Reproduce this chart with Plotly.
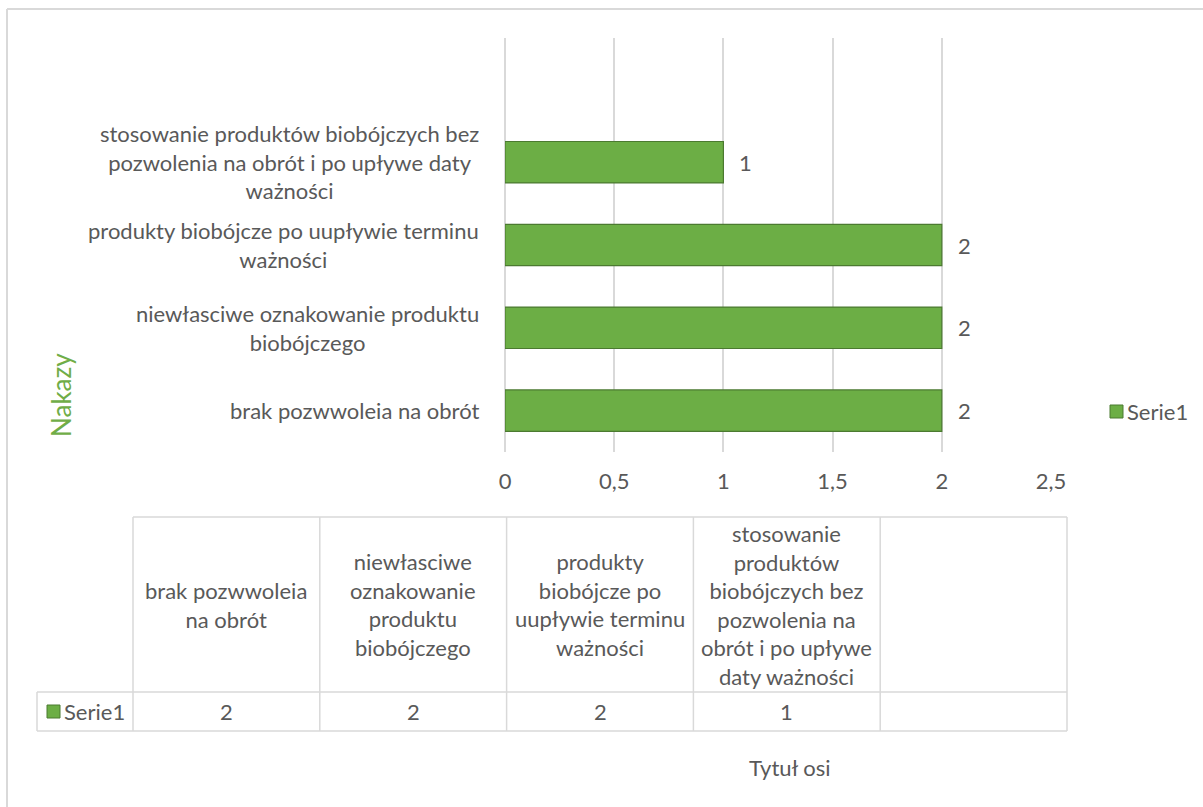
import plotly.graph_objects as go

# dane
kategorie = [
    "brak pozwwoleia na obrót",
    "niewłasciwe oznakowanie produktu biobójczego",
    "produkty biobójcze po uupływie terminu ważności",
    "stosowanie produktów biobójczych bez pozwolenia na obrót i po upływe daty ważności",
]
etykiety_osi = [
    "brak pozwwoleia na obrót",
    "niewłasciwe oznakowanie produktu<br>biobójczego",
    "produkty biobójcze po uupływie terminu<br>ważności",
    "stosowanie produktów biobójczych bez<br>pozwolenia na obrót i po upływe daty<br>ważności",
]
etykiety_tabeli = [
    "brak pozwwoleia<br>na obrót",
    "niewłasciwe<br>oznakowanie<br>produktu<br>biobójczego",
    "produkty<br>biobójcze po<br>uupływie terminu<br>ważności",
    "stosowanie<br>produktów<br>biobójczych bez<br>pozwolenia na<br>obrót i po upływe<br>daty ważności",
    "",
]
serie1 = [2, 2, 2, 1]
nazwa_serii = "Serie1"
x_ticks = [0, 0.5, 1, 1.5, 2, 2.5]

W, H = 1203, 807
L, R, T, B = 505, 152, 38, 355
FONT = "Lato"
GRAY = "#595959"
GRID = "#d9d9d9"
GREEN = "#6cae45"
EDGE = "#4b7a30"
FS = 22


def px_x(p):
    return (p - L) / (W - L - R)


def px_y(p):
    return (H - B - p) / (H - T - B)


def txt(**kw):
    base = dict(xref="paper", yref="paper", showarrow=False,
                xanchor="center", yanchor="middle", align="center",
                font=dict(family=FONT, size=FS, color=GRAY))
    base.update(kw)
    return base


fig = go.Figure()
fig.add_trace(go.Bar(
    x=serie1, y=kategorie, orientation="h", name=nazwa_serii,
    marker=dict(color=GREEN, line=dict(color=EDGE, width=1.2)),
    showlegend=False,
))

# etykiety danych
for k, v in zip(kategorie, serie1):
    fig.add_annotation(x=v, y=k, text=str(v), showarrow=False,
                       xanchor="left", xshift=14,
                       font=dict(family=FONT, size=FS, color=GRAY))

# etykiety kategorii (wyśrodkowane wiersze)
for k, lab in zip(kategorie, etykiety_osi):
    fig.add_annotation(xref="paper", x=0, y=k, yref="y", text=lab,
                       showarrow=False, xanchor="right", yanchor="middle",
                       xshift=-24, align="center",
                       font=dict(family=FONT, size=FS, color=GRAY))

shapes = []
# ramka wykresu
shapes.append(dict(type="line", xref="paper", yref="paper",
                   x0=px_x(7), x1=px_x(7), y0=px_y(H + 5), y1=px_y(9),
                   line=dict(color=GRID, width=2)))
shapes.append(dict(type="line", xref="paper", yref="paper",
                   x0=px_x(7), x1=px_x(W + 5), y0=px_y(9), y1=px_y(9),
                   line=dict(color=GRID, width=2)))

# legenda
shapes.append(dict(type="rect", xref="paper", yref="paper",
                   x0=px_x(1110), x1=px_x(1123), y0=px_y(405), y1=px_y(418),
                   fillcolor=GREEN, line=dict(color=EDGE, width=1)))
fig.add_annotation(**txt(x=px_x(1125), y=px_y(411), text=nazwa_serii, xanchor="left"))

# tabela danych
col_x = [133 + i * 186.8 for i in range(len(etykiety_tabeli) + 1)]
top_y, mid_y, bot_y = 517, 692, 731
line = dict(color=GRID, width=1.5)
for cx in col_x:
    shapes.append(dict(type="line", xref="paper", yref="paper",
                       x0=px_x(cx), x1=px_x(cx), y0=px_y(top_y), y1=px_y(bot_y), line=line))
shapes.append(dict(type="line", xref="paper", yref="paper",
                   x0=px_x(col_x[0]), x1=px_x(col_x[-1]), y0=px_y(top_y), y1=px_y(top_y), line=line))
shapes.append(dict(type="line", xref="paper", yref="paper",
                   x0=px_x(37), x1=px_x(col_x[-1]), y0=px_y(mid_y), y1=px_y(mid_y), line=line))
shapes.append(dict(type="line", xref="paper", yref="paper",
                   x0=px_x(37), x1=px_x(col_x[-1]), y0=px_y(bot_y), y1=px_y(bot_y), line=line))
shapes.append(dict(type="line", xref="paper", yref="paper",
                   x0=px_x(37), x1=px_x(37), y0=px_y(mid_y), y1=px_y(bot_y), line=line))
# znacznik serii w tabeli
shapes.append(dict(type="rect", xref="paper", yref="paper",
                   x0=px_x(47), x1=px_x(60), y0=px_y(705), y1=px_y(718),
                   fillcolor=GREEN, line=dict(color=EDGE, width=1)))

for i, lab in enumerate(etykiety_tabeli):
    cx = (col_x[i] + col_x[i + 1]) / 2
    fig.add_annotation(**txt(x=px_x(cx), y=px_y((top_y + mid_y) / 2), text=lab))
    val = str(serie1[i]) if i < len(serie1) else ""
    fig.add_annotation(**txt(x=px_x(cx), y=px_y((mid_y + bot_y) / 2), text=val))
fig.add_annotation(**txt(x=px_x(62), y=px_y((mid_y + bot_y) / 2),
                         text=nazwa_serii, xanchor="left"))

# tytuły osi
fig.add_annotation(**txt(x=px_x(790), y=px_y(767), text="Tytuł osi"))
fig.add_annotation(**txt(x=px_x(61), y=px_y(395), text="Nakazy", textangle=-90,
                         font=dict(family=FONT, size=26, color="#70ad47")))

fig.update_layout(
    width=W, height=H,
    margin=dict(l=L, r=R, t=T, b=B),
    paper_bgcolor="white", plot_bgcolor="white",
    separators=", ",
    bargap=0.5,
    shapes=shapes,
    font=dict(family=FONT, size=FS, color=GRAY),
    showlegend=False,
    xaxis=dict(range=[0, 2.5], tickvals=x_ticks, showgrid=True, gridcolor=GRID,
               gridwidth=1.5, zeroline=True, zerolinecolor=GRID, zerolinewidth=1.5,
               showline=False, ticks="outside", ticklen=0, ticklabelstandoff=10,
               tickfont=dict(family=FONT, size=FS, color=GRAY), fixedrange=True),
    yaxis=dict(range=[-0.5, 4.5], showticklabels=False, showgrid=False,
               zeroline=False, showline=False, fixedrange=True),
)

fig.write_html("out.html", config={"displayModeBar": False},
               post_script="document.body.style.margin='0';")
